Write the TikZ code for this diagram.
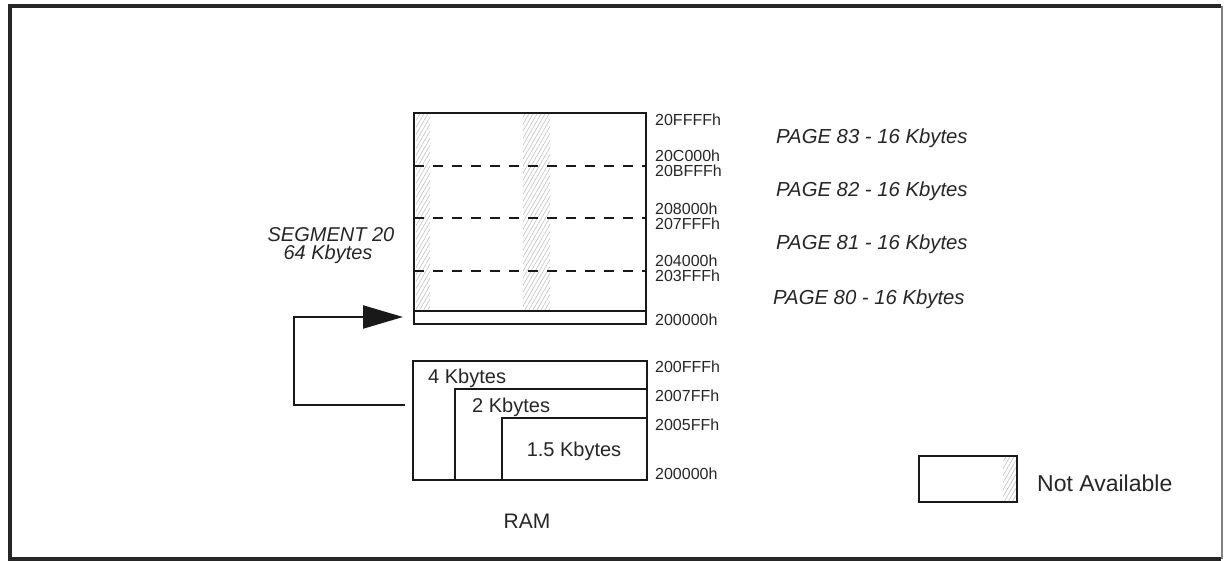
\documentclass[tikz,border=0pt]{standalone}
\usepackage{fontspec}
\setmainfont{Liberation Sans}
\usetikzlibrary{arrows.meta,patterns.meta}
\tikzset{
  box/.style={draw=black!90, line width=2.8pt},
  hatch/.style={pattern={Lines[angle=60,distance=3.5pt,line width=0.5pt]}, pattern color=gray!55},
  sep/.style={line width=2.8pt, draw=black!90, dash pattern=on 10pt off 9pt},
  addr/.style={anchor=base west, inner sep=0pt, font=\fontsize{16}{19}\selectfont, text=black!85},
  pagel/.style={anchor=base west, inner sep=0pt, font=\fontsize{20.3}{24}\selectfont\itshape, text=black!85},
  lbl/.style={inner sep=0pt, font=\fontsize{20}{24}\selectfont, text=black!85},
  conn/.style={line width=2.2pt, draw=black!90},
}
\begin{document}
\begin{tikzpicture}[x=1pt,y=-1pt]
\useasboundingbox (0,0) rectangle (1224,561);
% frame
\draw[line width=4pt, black!85] (1221,6) -- (9.5,6) -- (9.5,558.5) -- (1221,558.5);
\draw[line width=1.2pt, gray] (1222,6) -- (1222,558.5);

% segment box
\fill[hatch] (416,114) rectangle (430,310);
\fill[hatch] (523,114) rectangle (550,310);
\foreach \yy in {166,218,271} \draw[sep] (414,\yy) -- (646,\yy);
\draw[box] (414,113) rectangle (646,324);
\draw[box] (414,311) -- (646,311);
\coordinate (segin) at (403,317);

% address labels
\node[addr] (a1) at (655,126) {20FFFFh};
\node[addr] (a2) at (655,162) {20C000h};
\node[addr] (a3) at (655,177) {20BFFFh};
\node[addr] (a4) at (655,215) {208000h};
\node[addr] (a5) at (655,230) {207FFFh};
\node[addr] (a6) at (655,267) {204000h};
\node[addr] (a7) at (655,282) {203FFFh};
\node[addr] (a8) at (655,326) {200000h};

% page labels
\node[pagel] (p83) at (776,144) {PAGE 83 - 16 Kbytes};
\node[pagel] (p82) at (776,197) {PAGE 82 - 16 Kbytes};
\node[pagel] (p81) at (776,250) {PAGE 81 - 16 Kbytes};
\node[pagel] (p80) at (773,305) {PAGE 80 - 16 Kbytes};

\node[lbl, anchor=base, font=\fontsize{20}{24}\selectfont\itshape] (seg) at (331,242) {SEGMENT 20};
\node[lbl, anchor=base, font=\fontsize{20}{24}\selectfont\itshape] (seg2) at (328,260) {64 Kbytes};

% RAM boxes
\draw[box] (413,361) rectangle (647,480);
\draw[box] (455,389) rectangle (647,480);
\draw[box] (502,418) rectangle (647,480);
\coordinate (ramout) at (405,405);

\node[lbl, anchor=base west] (k4) at (428,384) {4 Kbytes};
\node[lbl, anchor=base west] (k2) at (472,412) {2 Kbytes};
\node[lbl, anchor=base] (k15) at (574,456) {1.5 Kbytes};

\node[addr] (b1) at (655,373) {200FFFh};
\node[addr] (b2) at (655,402) {2007FFh};
\node[addr] (b3) at (655,430) {2005FFh};
\node[addr] (b4) at (655,479) {200000h};

\node[lbl, anchor=base, font=\fontsize{21}{25}\selectfont] (ram) at (527,528) {RAM};

% connector
\draw[conn, -{Triangle[length=40pt,width=23pt]}] (ramout) -| (294,317) -- (segin);

% legend
\fill[hatch] (1003,457) rectangle (1016,501);
\draw[box] (919,456) rectangle (1017,502);
\node[lbl, anchor=base west, font=\fontsize{23}{27}\selectfont] (na) at (1037,491) {Not Available};
\end{tikzpicture}
\end{document}
